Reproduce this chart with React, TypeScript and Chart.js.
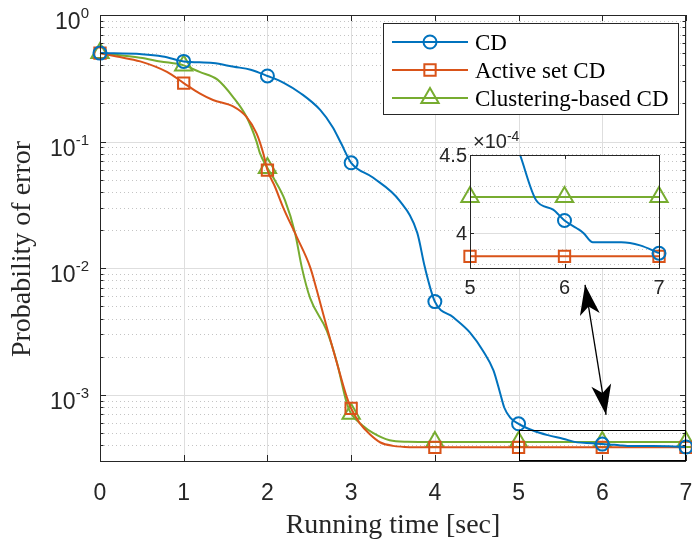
import React, { useEffect, useRef } from 'react';
import { Chart, registerables } from 'chart.js';

Chart.register(...registerables);

// ---------------- data ----------------
const cdTime = [0, 0.5, 0.75, 1, 1.35, 1.6, 1.8, 2, 2.2, 2.4, 2.63, 2.78, 2.88, 3, 3.26, 3.58, 3.79, 3.88, 4, 4.22, 4.42, 4.58, 4.7, 4.78, 4.83, 4.9, 5, 5.18, 5.35, 5.53, 5.7, 5.88, 6, 6.13, 6.2, 6.3, 6.6, 6.8, 7];
const cdError = [0.5, 0.49, 0.47, 0.43, 0.417, 0.39, 0.37, 0.33, 0.29, 0.24, 0.178, 0.13, 0.097, 0.068, 0.052, 0.034, 0.019, 0.0102, 0.00545, 0.0041, 0.0031, 0.0022, 0.00156, 0.00103, 0.00079, 0.00066, 0.00059, 0.00052, 0.00048, 0.00045, 0.000421, 0.000415, 0.000408, 0.000403, 0.0004, 0.000394, 0.000394, 0.000392, 0.000387];

const activeTime = [0, 0.2, 0.48, 0.8, 1, 1.19, 1.35, 1.59, 1.75, 1.87, 1.95, 2, 2.09, 2.19, 2.35, 2.51, 2.59, 2.71, 2.83, 2.95, 3, 3.1, 3.22, 3.35, 3.5, 3.7, 4, 5, 6, 7];
const activeError = [0.5, 0.47, 0.43, 0.355, 0.29, 0.24, 0.213, 0.19, 0.157, 0.116, 0.081, 0.0596, 0.044, 0.03, 0.0177, 0.0102, 0.0067, 0.0034, 0.00178, 0.00095, 0.00078, 0.0006, 0.00049, 0.00042, 0.000395, 0.000386, 0.000385, 0.000385, 0.000385, 0.000385];

const clusterTime = [0, 0.48, 0.72, 1, 1.19, 1.4, 1.59, 1.75, 1.87, 1.91, 2, 2.07, 2.21, 2.33, 2.41, 2.51, 2.71, 2.83, 2.95, 3, 3.14, 3.26, 3.46, 3.67, 4, 5, 6, 7];
const clusterError = [0.5, 0.46, 0.43, 0.4, 0.355, 0.31, 0.225, 0.157, 0.1, 0.081, 0.062, 0.052, 0.0344, 0.019, 0.0102, 0.0058, 0.0032, 0.0018, 0.00085, 0.00071, 0.00057, 0.0005, 0.000437, 0.000425, 0.000423, 0.000423, 0.000423, 0.000423];

const seriesNames = ['CD', 'Active set CD', 'Clustering-based CD'];
const markerTimes = [0, 1, 2, 3, 4, 5, 6, 7];

const xTicks = [0, 1, 2, 3, 4, 5, 6, 7];
const yDecades = [0, -1, -2, -3];

const insetXTicks = [5, 6, 7];
const insetYTicks = [4e-4, 4.5e-4];
const insetYTickLabels = ['4', '4.5'];
const insetYMinor = [3.8e-4, 3.9e-4, 4.1e-4, 4.2e-4, 4.3e-4, 4.4e-4];
const insetExponent = '-4';

const zoomBoxX = [5, 7];
const zoomBoxY = [3.05e-4, 5.3e-4];
const arrowFrom = { x: 5.794, y: 7.385e-3 };
const arrowTo = { x: 6.045, y: 6.95e-4 };

// ---------------- styles ----------------
const COLORS = ['#0072BD', '#D95319', '#77AC30'];
const MARKERS = ['circle', 'rect', 'triangle'];
const MARKER_R = [6.5, 8, 10];
const AXIS = '#262626';
const SANS = '"Liberation Sans", Arial, Helvetica, sans-serif';
const SERIF = '"Liberation Serif", "Times New Roman", serif';

const seriesX = [cdTime, activeTime, clusterTime];
const seriesY = [cdError, activeError, clusterError];

function drawMarker(ctx: CanvasRenderingContext2D, style: string, x: number, y: number, r: number, color: string) {
  ctx.save();
  ctx.strokeStyle = color;
  ctx.lineWidth = 2;
  ctx.beginPath();
  if (style === 'circle') {
    ctx.arc(x, y, r, 0, Math.PI * 2);
  } else if (style === 'rect') {
    const s = r * Math.SQRT1_2;
    ctx.rect(x - s, y - s, 2 * s, 2 * s);
  } else {
    ctx.moveTo(x, y - r);
    ctx.lineTo(x + r * Math.sin(2 * Math.PI / 3), y - r * Math.cos(2 * Math.PI / 3));
    ctx.lineTo(x + r * Math.sin(4 * Math.PI / 3), y - r * Math.cos(4 * Math.PI / 3));
    ctx.closePath();
  }
  ctx.stroke();
  ctx.restore();
}

function makeDatasets(minX: number, clip: any) {
  return seriesNames.map((name, i) => {
    const pts = seriesX[i]
      .map((x, j) => ({ x, y: seriesY[i][j] }))
      .filter((p) => p.x >= minX);
    return {
      label: name,
      data: pts,
      borderColor: COLORS[i],
      backgroundColor: 'rgba(0,0,0,0)',
      borderWidth: 2,
      borderJoinStyle: 'round' as const,
      cubicInterpolationMode: 'monotone' as const,
      pointStyle: MARKERS[i],
      pointRadius: (c: any) => (c.raw && markerTimes.includes(c.raw.x) ? MARKER_R[i] : 0),
      pointHoverRadius: 0,
      pointBorderWidth: 2,
      pointBorderColor: COLORS[i],
      pointBackgroundColor: 'rgba(0,0,0,0)',
      clip,
    };
  });
}

function arrowHead(ctx: CanvasRenderingContext2D, tx: number, ty: number, fx: number, fy: number) {
  const ang = Math.atan2(ty - fy, tx - fx);
  const ux = Math.cos(ang), uy = Math.sin(ang);
  const px = -uy, py = ux;
  const L = 30, W = 10, N = 8;
  ctx.beginPath();
  ctx.moveTo(tx, ty);
  ctx.lineTo(tx - ux * L + px * W, ty - uy * L + py * W);
  ctx.lineTo(tx - ux * (L - N), ty - uy * (L - N));
  ctx.lineTo(tx - ux * L - px * W, ty - uy * L - py * W);
  ctx.closePath();
  ctx.fill();
}

const mainDecor = {
  id: 'mainDecor',
  beforeDatasetsDraw(chart: any) {
    const { ctx, chartArea: ca } = chart;
    const xs = chart.scales.x, ys = chart.scales.y;
    ctx.save();
    ctx.strokeStyle = '#c4c4c4';
    ctx.lineWidth = 1;
    ctx.setLineDash([1, 3]);
    for (let k = -4; k <= -1; k++) {
      for (let m = 2; m <= 9; m++) {
        const v = m * Math.pow(10, k);
        if (v < ys.min || v > ys.max) continue;
        const py = Math.round(ys.getPixelForValue(v)) + 0.5;
        ctx.beginPath();
        ctx.moveTo(ca.left, py);
        ctx.lineTo(ca.right, py);
        ctx.stroke();
      }
    }
    ctx.setLineDash([]);
    ctx.strokeStyle = '#dedede';
    xTicks.forEach((t) => {
      const px = Math.round(xs.getPixelForValue(t)) + 0.5;
      ctx.beginPath();
      ctx.moveTo(px, ca.top);
      ctx.lineTo(px, ca.bottom);
      ctx.stroke();
    });
    yDecades.forEach((e) => {
      const py = Math.round(ys.getPixelForValue(Math.pow(10, e))) + 0.5;
      ctx.beginPath();
      ctx.moveTo(ca.left, py);
      ctx.lineTo(ca.right, py);
      ctx.stroke();
    });
    ctx.restore();
  },
  afterDatasetsDraw(chart: any) {
    const { ctx, chartArea: ca } = chart;
    const xs = chart.scales.x, ys = chart.scales.y;
    ctx.save();
    ctx.strokeStyle = AXIS;
    ctx.lineWidth = 1;
    ctx.strokeRect(ca.left + 0.5, ca.top + 0.5, ca.right - ca.left - 1, ca.bottom - ca.top);
    ctx.beginPath();
    xTicks.forEach((t) => {
      const px = Math.round(xs.getPixelForValue(t)) + 0.5;
      ctx.moveTo(px, ca.bottom);
      ctx.lineTo(px, ca.bottom - 6);
      ctx.moveTo(px, ca.top);
      ctx.lineTo(px, ca.top + 6);
    });
    for (let k = -4; k <= 0; k++) {
      for (let m = 1; m <= 9; m++) {
        const v = m * Math.pow(10, k);
        if (v < ys.min || v > ys.max) continue;
        const len = m === 1 ? 6 : 3.5;
        const py = Math.round(ys.getPixelForValue(v)) + 0.5;
        ctx.moveTo(ca.left, py);
        ctx.lineTo(ca.left + len, py);
        ctx.moveTo(ca.right, py);
        ctx.lineTo(ca.right - len, py);
      }
    }
    ctx.stroke();

    ctx.fillStyle = AXIS;
    ctx.font = `23px ${SANS}`;
    ctx.textAlign = 'center';
    ctx.textBaseline = 'alphabetic';
    xTicks.forEach((t) => {
      ctx.fillText(String(t), xs.getPixelForValue(t), ca.bottom + 39);
    });
    ctx.textAlign = 'left';
    yDecades.forEach((e) => {
      const py = ys.getPixelForValue(Math.pow(10, e));
      ctx.font = `23px ${SANS}`;
      const wb = ctx.measureText('10').width;
      ctx.font = `15px ${SANS}`;
      const es = String(e);
      const we = ctx.measureText(es).width;
      const right = ca.left - 11;
      ctx.font = `23px ${SANS}`;
      ctx.fillText('10', right - we - wb, py + 14);
      ctx.font = `15px ${SANS}`;
      ctx.fillText(es, right - we, py + 3);
    });

    ctx.font = `28px ${SERIF}`;
    ctx.textAlign = 'center';
    ctx.fillStyle = '#262626';
    ctx.fillText('Running time [sec]', (ca.left + ca.right) / 2, ca.bottom + 72);
    ctx.save();
    ctx.translate(30, 249);
    ctx.rotate(-Math.PI / 2);
    ctx.fillText('Probability of error', 0, 0);
    ctx.restore();

    const rx0 = xs.getPixelForValue(zoomBoxX[0]);
    const rx1 = xs.getPixelForValue(zoomBoxX[1]);
    const ry0 = ys.getPixelForValue(zoomBoxY[0]);
    const ry1 = ys.getPixelForValue(zoomBoxY[1]);
    ctx.strokeStyle = '#000';
    ctx.lineWidth = 1;
    ctx.strokeRect(Math.round(rx0) + 0.5, Math.round(ry1) + 0.5, Math.round(rx1 - rx0) - 1, Math.round(ry0 - ry1));

    const ax0 = xs.getPixelForValue(arrowFrom.x), ay0 = ys.getPixelForValue(arrowFrom.y);
    const ax1 = xs.getPixelForValue(arrowTo.x), ay1 = ys.getPixelForValue(arrowTo.y);
    ctx.strokeStyle = '#000';
    ctx.fillStyle = '#000';
    ctx.lineWidth = 1.3;
    ctx.beginPath();
    ctx.moveTo(ax0, ay0);
    ctx.lineTo(ax1, ay1);
    ctx.stroke();
    arrowHead(ctx, ax0, ay0, ax1, ay1);
    arrowHead(ctx, ax1, ay1, ax0, ay0);

    const lw = 295, lh = 91;
    const lx = ca.right - 8 - lw, ly = ca.top + 8;
    ctx.fillStyle = '#fff';
    ctx.fillRect(lx, ly, lw, lh);
    ctx.strokeStyle = AXIS;
    ctx.lineWidth = 1;
    ctx.strokeRect(lx + 0.5, ly + 0.5, lw, lh);
    seriesNames.forEach((name, i) => {
      const cy = ly + 19 + i * 28;
      ctx.strokeStyle = COLORS[i];
      ctx.lineWidth = 2;
      ctx.beginPath();
      ctx.moveTo(lx + 9, cy);
      ctx.lineTo(lx + 85, cy);
      ctx.stroke();
      drawMarker(ctx, MARKERS[i], lx + 47, cy, MARKER_R[i], COLORS[i]);
      ctx.fillStyle = '#000';
      ctx.font = `23px ${SERIF}`;
      ctx.textAlign = 'left';
      ctx.fillText(name, lx + 92, cy + 7.5);
    });
    ctx.restore();
  },
};

const insetDecor = {
  id: 'insetDecor',
  beforeDatasetsDraw(chart: any) {
    const { ctx, chartArea: ca } = chart;
    const xs = chart.scales.x, ys = chart.scales.y;
    ctx.save();
    ctx.fillStyle = '#fff';
    ctx.fillRect(ca.left, ca.top, ca.right - ca.left, ca.bottom - ca.top);
    ctx.strokeStyle = '#c4c4c4';
    ctx.lineWidth = 1;
    ctx.setLineDash([1, 3]);
    insetYMinor.forEach((v) => {
      const py = Math.round(ys.getPixelForValue(v)) + 0.5;
      ctx.beginPath();
      ctx.moveTo(ca.left, py);
      ctx.lineTo(ca.right, py);
      ctx.stroke();
    });
    ctx.setLineDash([]);
    ctx.strokeStyle = '#dedede';
    insetXTicks.forEach((t) => {
      const px = Math.round(xs.getPixelForValue(t)) + 0.5;
      ctx.beginPath();
      ctx.moveTo(px, ca.top);
      ctx.lineTo(px, ca.bottom);
      ctx.stroke();
    });
    insetYTicks.forEach((v) => {
      const py = Math.round(ys.getPixelForValue(v)) + 0.5;
      ctx.beginPath();
      ctx.moveTo(ca.left, py);
      ctx.lineTo(ca.right, py);
      ctx.stroke();
    });
    ctx.restore();
  },
  afterDatasetsDraw(chart: any) {
    const { ctx, chartArea: ca } = chart;
    const xs = chart.scales.x, ys = chart.scales.y;
    ctx.save();
    ctx.strokeStyle = AXIS;
    ctx.lineWidth = 1;
    ctx.strokeRect(ca.left + 0.5, ca.top + 0.5, ca.right - ca.left, ca.bottom - ca.top);
    ctx.beginPath();
    insetXTicks.forEach((t) => {
      const px = Math.round(xs.getPixelForValue(t)) + 0.5;
      ctx.moveTo(px, ca.bottom);
      ctx.lineTo(px, ca.bottom - 4);
      ctx.moveTo(px, ca.top);
      ctx.lineTo(px, ca.top + 4);
    });
    insetYTicks.forEach((v) => {
      const py = Math.round(ys.getPixelForValue(v)) + 0.5;
      ctx.moveTo(ca.left, py);
      ctx.lineTo(ca.left + 4, py);
      ctx.moveTo(ca.right, py);
      ctx.lineTo(ca.right - 4, py);
    });
    ctx.stroke();

    ctx.fillStyle = AXIS;
    ctx.font = `20px ${SANS}`;
    ctx.textBaseline = 'alphabetic';
    ctx.textAlign = 'center';
    insetXTicks.forEach((t) => {
      ctx.fillText(String(t), xs.getPixelForValue(t), ca.bottom + 26);
    });
    ctx.textAlign = 'right';
    insetYTicks.forEach((v, i) => {
      ctx.fillText(insetYTickLabels[i], ca.left - 3, ys.getPixelForValue(v) + 7);
    });
    ctx.textAlign = 'left';
    const base = '\u00d710';
    const bx = ca.left + 3;
    ctx.fillText(base, bx, ca.top - 7);
    const wb = ctx.measureText(base).width;
    ctx.font = `14px ${SANS}`;
    ctx.fillText(insetExponent, bx + wb, ca.top - 14);
    ctx.restore();
  },
};

export default function App() {
  const mainRef = useRef<HTMLCanvasElement | null>(null);
  const insetRef = useRef<HTMLCanvasElement | null>(null);

  useEffect(() => {
    if (!mainRef.current || !insetRef.current) return;
    const main = new Chart(mainRef.current, {
      type: 'line',
      data: { datasets: makeDatasets(-Infinity, false) as any },
      options: {
        responsive: false,
        animation: false,
        events: [],
        layout: { autoPadding: false, padding: { left: 0, top: 15, right: 6, bottom: 0 } },
        plugins: { legend: { display: false }, tooltip: { enabled: false } },
        scales: {
          x: {
            type: 'linear', min: 0, max: 7,
            grid: { display: false }, border: { display: false },
            ticks: { display: false },
            afterFit: (s: any) => { s.height = 80; },
          },
          y: {
            type: 'logarithmic', min: 3e-4, max: 1,
            grid: { display: false }, border: { display: false },
            ticks: { display: false },
            afterFit: (s: any) => { s.width = 100; },
          },
        },
      } as any,
      plugins: [mainDecor],
    });

    const inset = new Chart(insetRef.current, {
      type: 'line',
      data: { datasets: makeDatasets(5, { left: 14, right: 14, top: 0, bottom: 14 }) as any },
      options: {
        responsive: false,
        animation: false,
        events: [],
        layout: { autoPadding: false, padding: { left: 430, top: 155, right: 33, bottom: 243 } },
        plugins: { legend: { display: false }, tooltip: { enabled: false } },
        scales: {
          x: {
            type: 'linear', min: 5, max: 7,
            grid: { display: false }, border: { display: false },
            ticks: { display: false },
            afterFit: (s: any) => { s.height = 30; },
          },
          y: {
            type: 'linear', min: 3.775e-4, max: 4.5e-4,
            grid: { display: false }, border: { display: false },
            ticks: { display: false },
            afterFit: (s: any) => { s.width = 40; },
          },
        },
      } as any,
      plugins: [insetDecor],
    });

    return () => {
      main.destroy();
      inset.destroy();
    };
  }, []);

  return (
    <div style={{ position: 'fixed', left: 0, top: 0, width: 692, height: 541, background: '#fff' }}>
      <canvas ref={mainRef} width={692} height={541} style={{ position: 'absolute', left: 0, top: 0, display: 'block' }} />
      <canvas ref={insetRef} width={692} height={541} style={{ position: 'absolute', left: 0, top: 0, display: 'block' }} />
    </div>
  );
}
